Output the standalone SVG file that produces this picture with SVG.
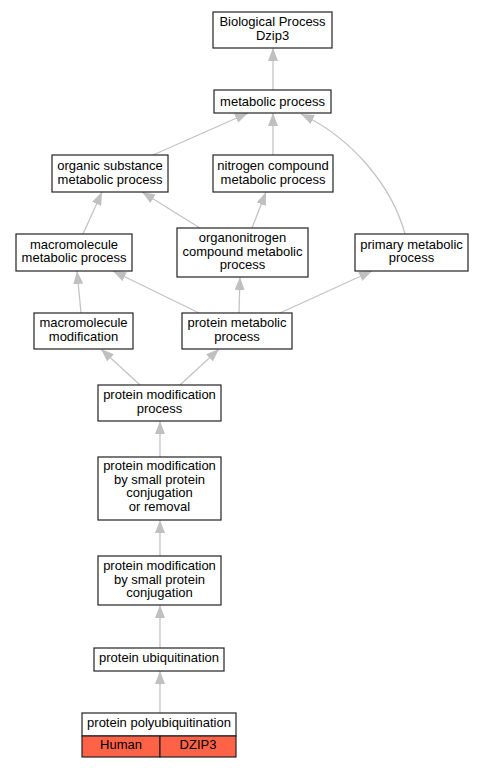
<svg xmlns="http://www.w3.org/2000/svg" width="483" height="768" viewBox="0 0 483 768">
<style>
.n rect{fill:#fff;stroke:#222;stroke-width:1.2}
.n text,.h text{font-family:"Liberation Sans",Arial,sans-serif;font-size:13px;text-anchor:middle;fill:#000}
.h rect{fill:#ff6347;stroke:#222;stroke-width:1.2}
#edges path{fill:none;stroke:#c4c4c4;stroke-width:1.3;marker-end:url(#ah)}
</style>
<defs>
<marker id="ah" markerUnits="userSpaceOnUse" viewBox="0 0 13 10" markerWidth="13" markerHeight="10" refX="13" refY="5" orient="auto">
<path d="M0,0 L13,5 L0,10 z" fill="#c0c0c0"/>
</marker>
</defs>
<rect width="483" height="768" fill="#fff"/>
<g id="edges">
<path d="M273,90 L273,48"/>
<path d="M273,155 L273,113"/>
<path d="M153,155 L248,113"/>
<path d="M405,234 C392,186 352,138 301,114"/>
<path d="M83,234 L102,192"/>
<path d="M200,228 L142,192"/>
<path d="M252,228 L266,192"/>
<path d="M81,313 L77,271"/>
<path d="M199,313 L113,271"/>
<path d="M239,313 L240,277"/>
<path d="M280,313 L372,271"/>
<path d="M140,385 L101,349"/>
<path d="M180,385 L219,349"/>
<path d="M160,457 L160,421"/>
<path d="M160,556 L160,520"/>
<path d="M160,648 L160,605"/>
<path d="M160,713 L160,671"/>
</g>
<g id="bp" class="n"><rect x="213" y="12" width="119" height="36"/><text x="272.5" y="26">Biological Process</text><text x="272.5" y="39.5">Dzip3</text></g>
<g id="metabolic" class="n"><rect x="214" y="90" width="117" height="23"/><text x="272.5" y="106">metabolic process</text></g>
<g id="organic" class="n"><rect x="52" y="155" width="116" height="37"/><text x="110" y="170">organic substance</text><text x="110" y="183.5">metabolic process</text></g>
<g id="nitrogen" class="n"><rect x="213" y="155" width="120" height="37"/><text x="273" y="170">nitrogen compound</text><text x="273" y="183.5">metabolic process</text></g>
<g id="macromet" class="n"><rect x="16" y="234" width="116" height="37"/><text x="74" y="248.5">macromolecule</text><text x="74" y="262">metabolic process</text></g>
<g id="organonitrogen" class="n"><rect x="177" y="228" width="131" height="49"/><text x="242.5" y="242">organonitrogen</text><text x="242.5" y="255.5">compound metabolic</text><text x="242.5" y="269">process</text></g>
<g id="primary" class="n"><rect x="355" y="234" width="113" height="37"/><text x="411.5" y="248.5">primary metabolic</text><text x="411.5" y="262">process</text></g>
<g id="macromod" class="n"><rect x="34" y="313" width="99" height="36"/><text x="83.5" y="327">macromolecule</text><text x="83.5" y="340.5">modification</text></g>
<g id="protmet" class="n"><rect x="182" y="313" width="110" height="36"/><text x="237" y="327">protein metabolic</text><text x="237" y="340.5">process</text></g>
<g id="protmod" class="n"><rect x="98" y="385" width="123" height="36"/><text x="159.5" y="399">protein modification</text><text x="159.5" y="413">process</text></g>
<g id="smallrem" class="n"><rect x="98" y="457" width="123" height="63"/><text x="159.5" y="470">protein modification</text><text x="159.5" y="483.5">by small protein</text><text x="159.5" y="497">conjugation</text><text x="159.5" y="510.5">or removal</text></g>
<g id="smallconj" class="n"><rect x="98" y="556" width="123" height="49"/><text x="159.5" y="570">protein modification</text><text x="159.5" y="583.5">by small protein</text><text x="159.5" y="597">conjugation</text></g>
<g id="ubiq" class="n"><rect x="94" y="648" width="130" height="23"/><text x="159" y="662">protein ubiquitination</text></g>
<g id="polyubiq"><g class="n"><rect x="82" y="713" width="154" height="23"/><text x="159" y="727">protein polyubiquitination</text></g>
<g class="h"><rect x="82" y="736" width="78" height="21"/><rect x="160" y="736" width="76" height="21"/><text x="121" y="748.5">Human</text><text x="198" y="748.5">DZIP3</text></g></g>
</svg>
